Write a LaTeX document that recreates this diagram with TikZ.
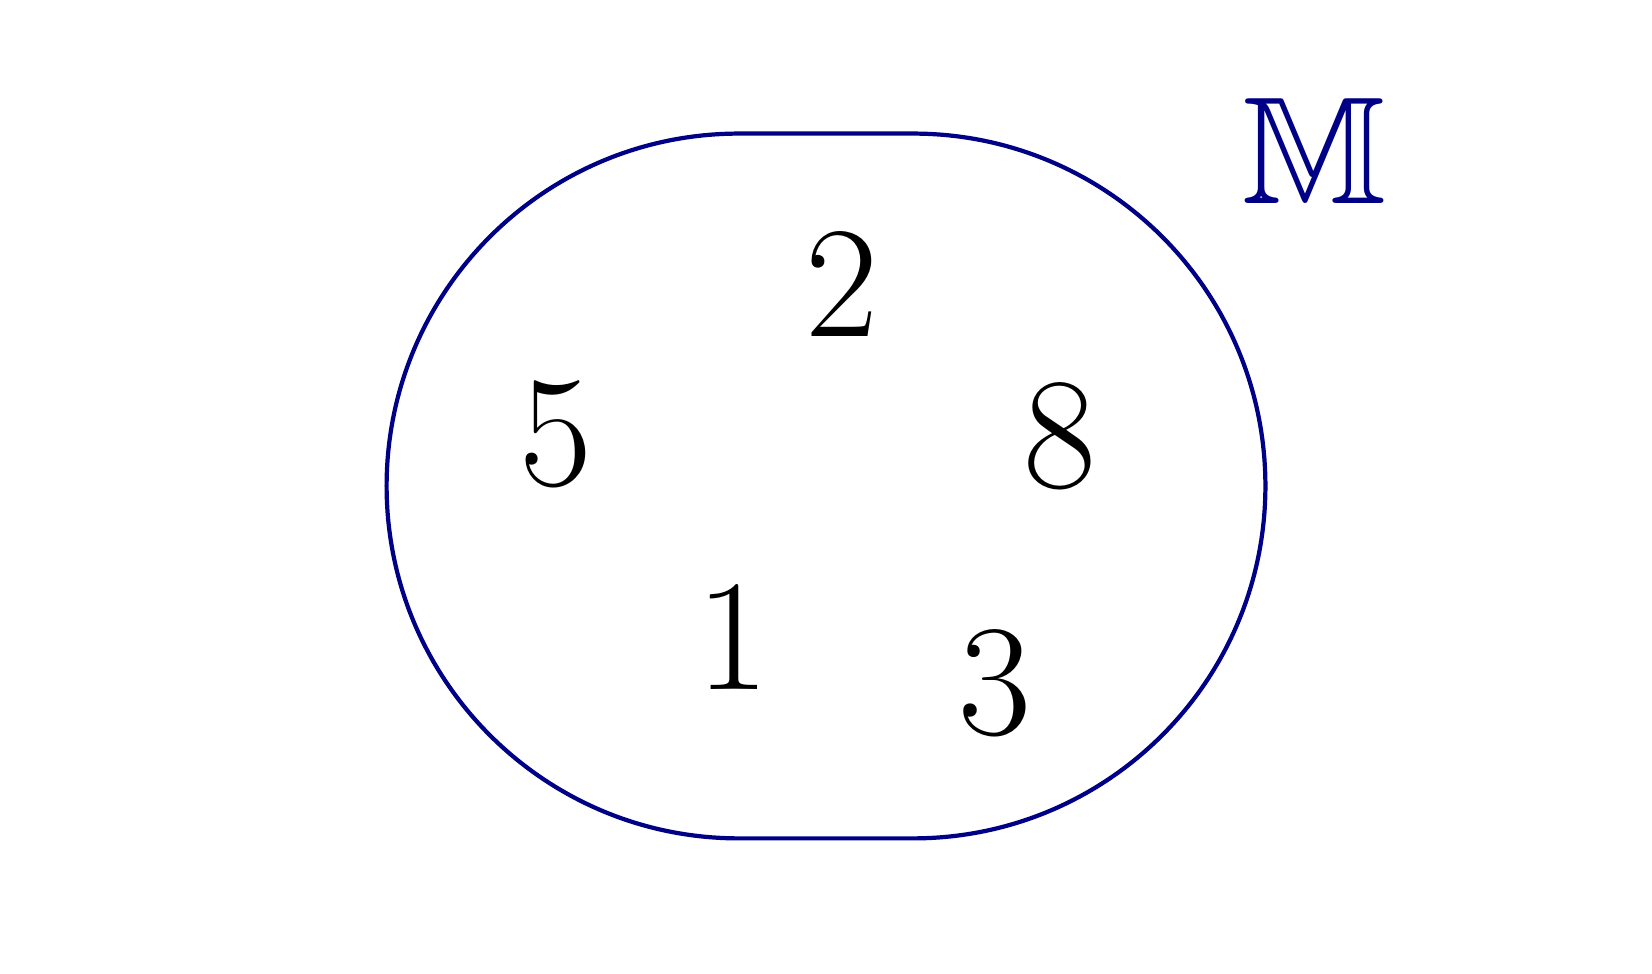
\documentclass[tikz,border=0pt]{standalone}
\usepackage{amssymb}
\usepackage{fontspec}
\definecolor{setblue}{RGB}{0,0,135}
\tikzset{
  elem/.style={inner sep=0pt, font=\fontsize{45.2}{50}\selectfont},
  setname/.style={inner sep=0pt, text=setblue, font=\fontsize{43.5}{48}\selectfont},
  setline/.style={draw=setblue, line width=1.2pt}
}
\begin{document}
\begin{tikzpicture}
\useasboundingbox (0,0) rectangle (16.52,9.74);
\draw[setline] (7.39,8.404) -- (9.13,8.404) arc (90:-90:3.524) -- (7.39,1.356) arc (270:90:3.524) -- cycle;
\node[elem] (n2) at (8.418,6.90) {2};
\node[elem] (n5) at (5.558,5.40) {5};
\node[elem] (n8) at (10.599,5.375) {8};
\node[elem] (n1) at (7.328,3.37) {1};
\node[elem] (n3) at (9.946,2.91) {3};
\node[setname] (M) at (13.143,8.233) {$\mathbb{M}$};
\end{tikzpicture}
\end{document}
